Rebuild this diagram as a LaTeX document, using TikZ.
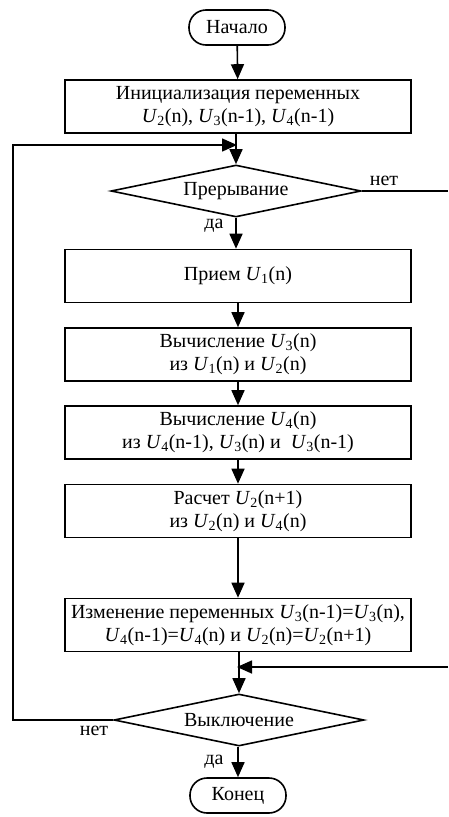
\documentclass[tikz,border=0pt]{standalone}
\usepackage{fontspec}
\setmainfont{Liberation Serif}
\usetikzlibrary{shapes.geometric,arrows.meta}
\newcommand\Uv[1]{\textit{U}\textsubscript{#1}}
\begin{document}
\begin{tikzpicture}[x=1pt,y=-1pt, line width=1.6pt,
  every node/.style={font=\fontsize{20}{23}\selectfont},
  term/.style={draw, rounded corners=17pt, minimum width=96pt, minimum height=35pt, inner sep=0pt},
  proc/.style={draw, minimum width=346pt, minimum height=53pt, align=center, inner sep=0pt},
  dec/.style={draw, diamond, aspect=4.8, minimum width=250pt, minimum height=52pt, inner sep=0pt},
  arr/.style={-{Triangle[width=13pt,length=15pt]}},
  lbl/.style={inner sep=0pt}]
\useasboundingbox (0,0) rectangle (448,817);
\node[term] (start) at (237,27.5) {Начало};
\node[proc] (init) at (238,106.5) {Инициализация переменных\\\Uv{2}(n), \Uv{3}(n-1), \Uv{4}(n-1)};
\node[dec] (dec1) at (236,191) {Прерывание};
\node[proc] (p1) at (238,276) {Прием \Uv{1}(n)};
\node[proc] (p2) at (238,354.5) {Вычисление \Uv{3}(n)\\из \Uv{1}(n) и \Uv{2}(n)};
\node[proc] (p3) at (238,432.5) {Вычисление \Uv{4}(n)\\из \Uv{4}(n-1), \Uv{3}(n) и \ \Uv{3}(n-1)};
\node[proc] (p4) at (238,511) {Расчет \Uv{2}(n+1)\\из \Uv{2}(n) и \Uv{4}(n)};
\node[proc] (p5) at (238,625) {Изменение переменных \Uv{3}(n-1)=\Uv{3}(n),\\\Uv{4}(n-1)=\Uv{4}(n) и \Uv{2}(n)=\Uv{2}(n+1)};
\node[dec] (dec2) at (239,720) {Выключение};
\node[term] (end) at (238,795.5) {Конец};
\node[lbl] (no1) at (384,181) {нет};
\node[lbl] (yes1) at (214,226) {да};
\node[lbl] (no2) at (94,731) {нет};
\node[lbl] (yes2) at (214,762) {да};
\coordinate (lc2) at (13,145);
\coordinate (j1) at (237,145);
\coordinate (r1) at (448,191);
\coordinate (r2) at (448,667);
\coordinate (j2) at (237,667);
\draw[arr] (start) -- (init);
\draw[arr] (init.south -| dec1.north) -- (dec1);
\draw[arr] (dec1) -- (dec1.south |- p1.north);
\draw[arr] (p1) -- (p2);
\draw[arr] (p2) -- (p3);
\draw[arr] (p3) -- (p4);
\draw[arr] (p4) -- (p5);
\draw[arr] (p5.south -| dec2.north) -- (dec2);
\draw[arr] (dec2.south -| end.north) -- (end);
\draw[arr] (dec2.west) -| (lc2) -- (j1);
\draw (dec1.east) -- (r1);
\draw[arr] (r2) -- (j2);
\end{tikzpicture}
\end{document}
